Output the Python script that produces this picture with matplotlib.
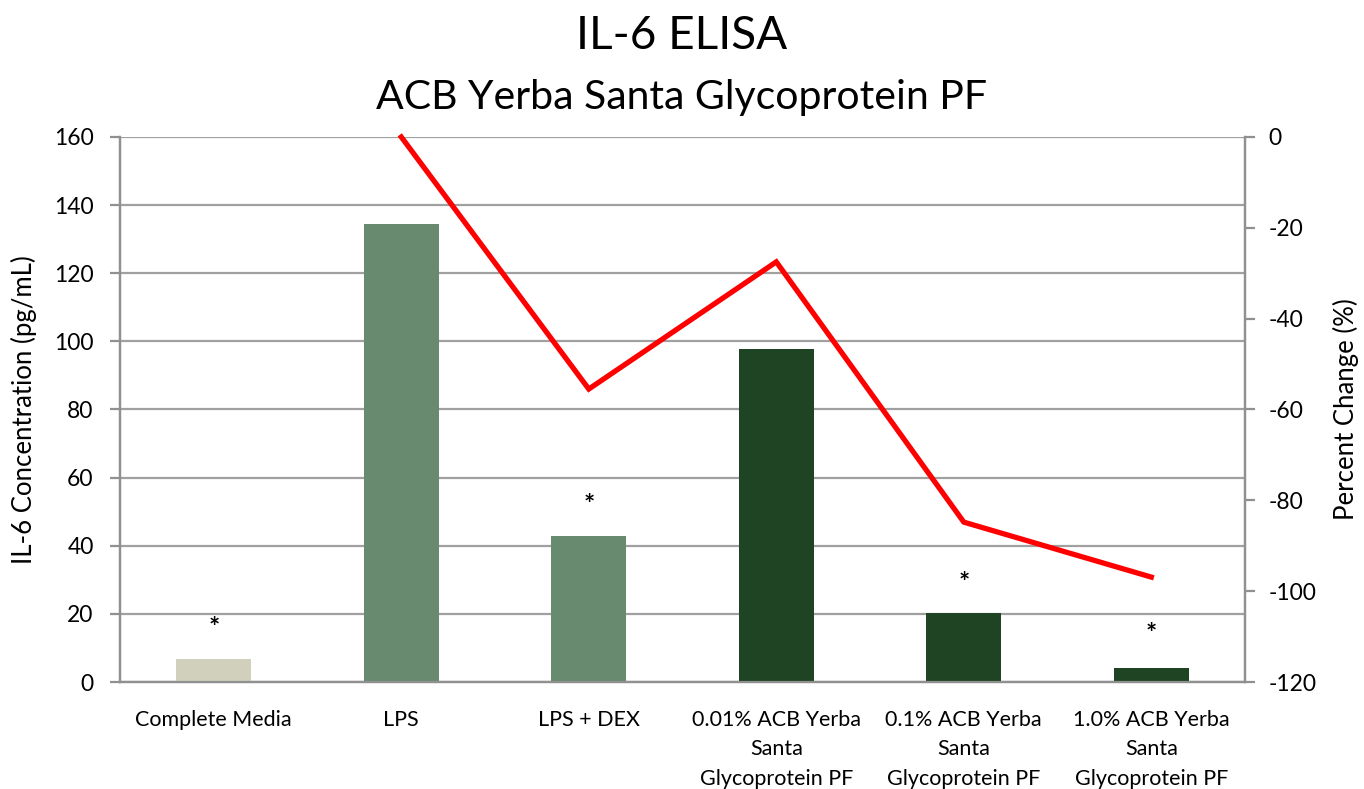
# IL-6 ELISA bar + percent change line

import matplotlib.pyplot as plt
import numpy as np

plt.rcParams['font.family'] = ['Lato', 'DejaVu Sans']
plt.rcParams['axes.unicode_minus'] = False

# data
categories = ['Complete Media', 'LPS', 'LPS + DEX',
              '0.01% ACB Yerba\nSanta\nGlycoprotein PF',
              '0.1% ACB Yerba\nSanta\nGlycoprotein PF',
              '1.0% ACB Yerba\nSanta\nGlycoprotein PF']
il6_conc = [6.8, 134.5, 43.0, 97.8, 20.2, 4.1]
bar_colors = ['#D0D0BC', '#688A6F', '#688A6F', '#1F4423', '#1F4423', '#1F4423']
pct_change_idx = [1, 2, 3, 4, 5]
pct_change = [0, -55.5, -27.5, -84.8, -96.9]
star_idx = [0, 2, 4, 5]
star_y = [16, 52, 29, 14]

fig = plt.figure(figsize=(13.64, 7.89), dpi=100)
ax1 = fig.add_axes([0.088, 0.1356, 0.8248, 0.6908])
x = np.arange(len(categories))

ax1.bar(x, il6_conc, width=0.4, color=bar_colors, zorder=3)
for i, y in zip(star_idx, star_y):
    ax1.text(x[i], y, '*', ha='center', va='center', fontsize=19,
             fontweight='bold', zorder=4)

ax1.set_xlim(-0.5, len(categories) - 0.5)
ax1.set_ylim(0, 160)
ax1.set_yticks(np.arange(0, 161, 20))
ax1.grid(axis='y', color='#A0A0A0', linewidth=1.6, zorder=0)
ax1.set_axisbelow(True)
ax1.set_xticks(x)
ax1.set_xticklabels(categories, fontsize=15.5, linespacing=1.6)
ax1.tick_params(axis='x', length=0, pad=20)
ax1.tick_params(axis='y', labelsize=16.5, color='#909090', width=1.6,
                length=7, pad=12)
ax1.set_ylabel('IL-6 Concentration (pg/mL)', fontsize=18.5, labelpad=12)

ax2 = ax1.twinx()
ax2.plot(x[pct_change_idx], pct_change, color='#FF0000', linewidth=3.8,
         solid_joinstyle='miter', zorder=5, clip_on=False)
ax2.set_ylim(-120, 0)
ax2.set_yticks(np.arange(-120, 1, 20))
ax2.tick_params(axis='y', labelsize=16.5, color='#909090', width=1.6,
                length=7, pad=10)
ax2.set_ylabel('Percent Change (%)', fontsize=18.5, labelpad=12)

for ax in (ax1, ax2):
    ax.spines['top'].set_visible(False)
    for s in ('left', 'right', 'bottom'):
        ax.spines[s].set_color('#909090')
        ax.spines[s].set_linewidth(1.6)

fig.text(0.5, 0.955, 'IL-6 ELISA', ha='center', va='center', fontsize=33)
fig.text(0.5, 0.877, 'ACB Yerba Santa Glycoprotein PF', ha='center',
         va='center', fontsize=29.5)

plt.savefig('out.png', dpi=100)
